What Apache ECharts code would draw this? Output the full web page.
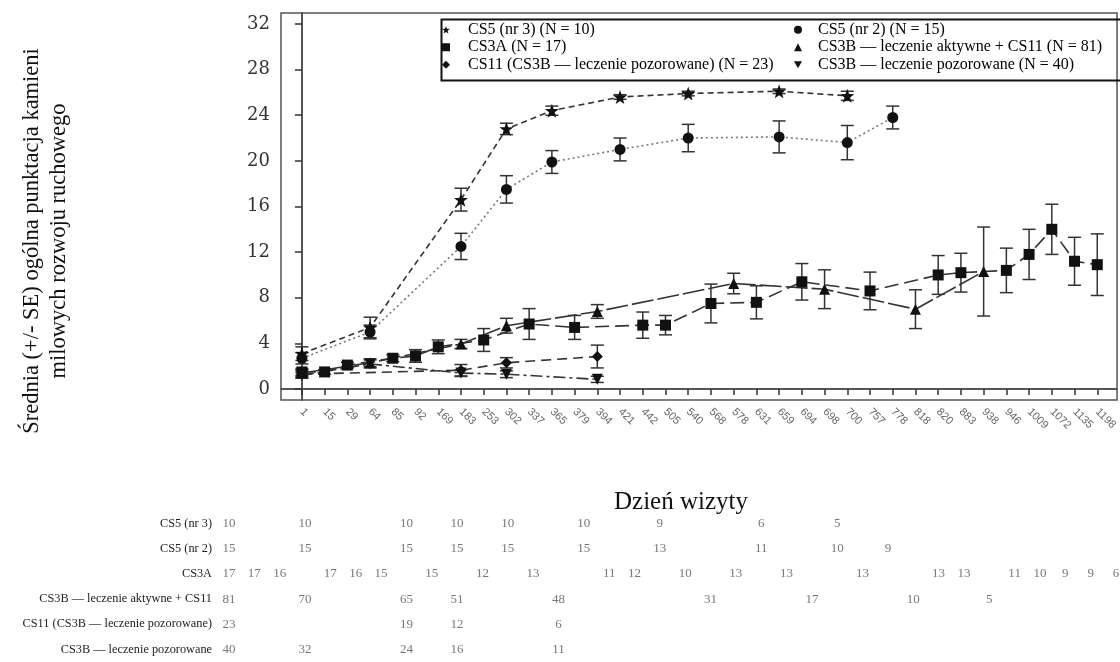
<meta charset="utf-8">
<script src="https://cdn.jsdelivr.net/npm/echarts@6/dist/echarts.min.js"></script>
<div id="main" style="position:absolute;left:0;top:0;width:1120px;height:662px"></div>
<script>
// visit days on the x axis (category positions)
const days = [1,15,29,64,85,92,169,183,253,302,337,365,379,394,421,442,505,540,568,578,631,659,694,698,700,757,778,818,820,883,938,946,1009,1072,1135,1198];
const yTicks = [0,4,8,12,16,20,24,28,32];

const legendNames = ['CS5 (nr 3) (N = 10)', 'CS5 (nr 2) (N = 15)', 'CS3A (N = 17)',
  'CS3B — leczenie aktywne + CS11 (N = 81)', 'CS11 (CS3B — leczenie pozorowane) (N = 23)', 'CS3B — leczenie pozorowane (N = 40)'];
const rowLabels = ['CS5 (nr 3)', 'CS5 (nr 2)', 'CS3A', 'CS3B — leczenie aktywne + CS11',
  'CS11 (CS3B — leczenie pozorowane)', 'CS3B — leczenie pozorowane'];

const cs5nr3Days = [1,64,183,302,365,421,540,659,700];
const cs5nr3Mean = [3.1,5.4,16.6,22.8,24.4,25.6,25.9,26.1,25.7];
const cs5nr3Se   = [0.6,0.9,1.0,0.5,0.4,0.2,0.2,0.2,0.4];
const cs5nr3N    = [10,10,10,10,10,10,9,6,5];

const cs5nr2Days = [1,64,183,302,365,421,540,659,700,778];
const cs5nr2Mean = [2.7,5.0,12.5,17.5,19.9,21.0,22.0,22.1,21.6,23.8];
const cs5nr2Se   = [0.5,0.6,1.15,1.2,1.0,1.0,1.2,1.4,1.5,1.0];
const cs5nr2N    = [15,15,15,15,15,15,13,11,10,9];

const cs3aDays = [1,15,29,85,92,169,253,337,379,442,505,568,631,694,757,820,883,946,1009,1072,1135,1198];
const cs3aMean = [1.5,1.5,2.1,2.7,2.9,3.7,4.3,5.7,5.4,5.6,5.6,7.5,7.6,9.4,8.6,10.0,10.2,10.4,11.8,14.0,11.2,10.9];
const cs3aSe   = [0.3,0.2,0.25,0.3,0.55,0.6,1.0,1.35,1.05,1.15,0.85,1.7,1.45,1.6,1.65,1.7,1.7,1.95,2.2,2.2,2.1,2.7];
const cs3aN    = [17,17,16,17,16,15,15,12,13,11,12,10,13,13,13,13,13,11,10,9,9,6];

const cs3bActDays = [1,64,183,302,394,578,698,818,938];
const cs3bActMean = [1.4,2.3,3.95,5.55,6.8,9.25,8.75,7.0,10.3];
const cs3bActSe   = [0.3,0.35,0.4,0.65,0.6,0.9,1.7,1.7,3.9];
const cs3bActN    = [81,70,65,51,48,31,17,10,5];

const cs11Days = [1,183,302,394];
const cs11Mean = [1.3,1.65,2.3,2.85];
const cs11Se   = [0.3,0.5,0.45,1.0];
const cs11N    = [23,19,12,6];

const cs3bShamDays = [1,64,183,302,394];
const cs3bShamMean = [1.2,2.2,1.4,1.3,0.85];
const cs3bShamSe   = [0.25,0.35,0.3,0.3,0.27];
const cs3bShamN    = [40,32,24,16,11];

const STAR = 'path://M0,-10L2.35,-3.24L9.51,-3.09L3.8,1.24L5.88,8.09L0,4.2L-5.88,8.09L-3.8,1.24L-9.51,-3.09L-2.35,-3.24Z';
const groups = [
  {days: cs5nr3Days, mean: cs5nr3Mean, se: cs5nr3Se, n: cs5nr3N, symbol: STAR, size: 14, dash: [6,4], color: '#333'},
  {days: cs5nr2Days, mean: cs5nr2Mean, se: cs5nr2Se, n: cs5nr2N, symbol: 'circle', size: 11, dash: [2,3], color: '#777'},
  {days: cs3aDays, mean: cs3aMean, se: cs3aSe, n: cs3aN, symbol: 'rect', size: 11, dash: [14,6], color: '#333'},
  {days: cs3bActDays, mean: cs3bActMean, se: cs3bActSe, n: cs3bActN, symbol: 'triangle', size: 11, dash: [22,4], color: '#333'},
  {days: cs11Days, mean: cs11Mean, se: cs11Se, n: cs11N, symbol: 'diamond', size: 11, dash: [10,6], color: '#333'},
  {days: cs3bShamDays, mean: cs3bShamMean, se: cs3bShamSe, n: cs3bShamN, symbol: 'triangle', rotate: 180, size: 11, dash: [12,4,3,4], color: '#333'},
];
const legendIcons = [STAR, 'circle', 'rect', 'triangle', 'diamond', 'path://M-5,-4L5,-4L0,5Z'];

const serif = 'Liberation Serif';
const series = [];
groups.forEach((g, k) => {
  const idx = g.days.map(d => days.indexOf(d));
  series.push({
    type: 'custom', xAxisIndex: 0, yAxisIndex: 0, z: 2, silent: true,
    data: idx.map((x, i) => [x, g.mean[i] - g.se[i], g.mean[i] + g.se[i]]),
    encode: {x: 0, y: [1, 2]},
    renderItem: (params, api) => {
      const top = api.coord([api.value(0), api.value(2)]);
      const bot = api.coord([api.value(0), api.value(1)]);
      const w = 6.5, st = {stroke: '#333', lineWidth: 1.5};
      return {type: 'group', children: [
        {type: 'line', shape: {x1: top[0], y1: top[1], x2: bot[0], y2: bot[1]}, style: st},
        {type: 'line', shape: {x1: top[0]-w, y1: top[1], x2: top[0]+w, y2: top[1]}, style: st},
        {type: 'line', shape: {x1: bot[0]-w, y1: bot[1], x2: bot[0]+w, y2: bot[1]}, style: st},
      ]};
    }
  });
  series.push({
    name: legendNames[k], type: 'line', xAxisIndex: 0, yAxisIndex: 0, z: 3,
    data: idx.map((x, i) => [x, g.mean[i]]),
    symbol: g.symbol, symbolSize: g.size, symbolRotate: g.rotate || 0,
    itemStyle: {color: '#111'},
    lineStyle: {color: g.color, width: 1.6, type: g.dash},
  });
  // numbers at risk under the chart
  series.push({
    type: 'scatter', xAxisIndex: 1, yAxisIndex: 1, silent: true,
    symbolSize: 2, itemStyle: {color: 'rgba(0,0,0,0)'},
    data: idx.map((x, i) => [x, rowLabels[k], g.n[i]]),
    label: {show: true, position: 'inside', formatter: p => p.value[2],
      fontFamily: serif, fontSize: 13, color: '#555'},
  });
});

const legendText = {fontFamily: serif, fontSize: 16, color: '#000', lineHeight: 17.5};
const myChart = echarts.init(main);
myChart.setOption({
  backgroundColor: '#fff',
  animation: false,
  grid: [
    {left: 281, top: 13, right: -2, bottom: 262, show: true, borderColor: '#555', borderWidth: 1.5},
    {left: 229, top: 511, right: 4, height: 156},
  ],
  xAxis: [{
    type: 'value', gridIndex: 0, min: -0.92, max: 35.87,
    splitLine: {show: false},
    axisLine: {lineStyle: {color: '#555', width: 2}},
    axisTick: {customValues: days.map((d, i) => i), length: 6, lineStyle: {color: '#333', width: 1.5}},
    axisLabel: {customValues: days.map((d, i) => i), formatter: v => days[v], rotate: -45, margin: 10,
      fontFamily: 'Liberation Sans', fontSize: 11, color: '#666'},
  }, {
    type: 'value', gridIndex: 1, min: 0, max: 35, show: false,
  }],
  yAxis: [{
    type: 'value', gridIndex: 0, min: -0.96, max: 32.96,
    splitLine: {show: false},
    axisLine: {show: true, lineStyle: {color: '#555', width: 2}},
    axisTick: {show: true, customValues: yTicks, length: 7, lineStyle: {color: '#333', width: 1.5}},
    axisLabel: {customValues: yTicks, margin: 11, fontFamily: 'DejaVu Serif', fontSize: 18, color: '#333'},
  }, {
    type: 'category', gridIndex: 1, data: rowLabels, inverse: true,
    axisLine: {show: false}, axisTick: {show: false}, splitLine: {show: false},
    axisLabel: {margin: 17, fontFamily: serif, fontSize: 12.3, color: '#222'},
  }],
  legend: [{
    orient: 'vertical', left: 437, top: 16, itemWidth: 8, itemHeight: 8, itemGap: 0,
    data: [0, 2, 4].map(i => ({name: legendNames[i], icon: legendIcons[i]})),
    textStyle: Object.assign({padding: [0, 0, 0, 13]}, legendText),
  }, {
    orient: 'vertical', left: 789, top: 16, itemWidth: 8, itemHeight: 8, itemGap: 0,
    data: [1, 3, 5].map(i => ({name: legendNames[i], icon: legendIcons[i]})),
    textStyle: Object.assign({padding: [0, 0, 0, 11]}, legendText),
  }],
  graphic: [
    {type: 'rect', left: 439, top: 17, shape: {width: 680, height: 61}, style: {fill: 'none', stroke: '#111', lineWidth: 2}, z: 10},
    {type: 'text', x: 46, y: 241, rotation: Math.PI / 2,
      style: {text: 'Średnia (+/- SE) ogólna punktacja kamieni\nmilowych rozwoju ruchowego',
        align: 'center', verticalAlign: 'middle', lineHeight: 27, font: '22.5px "Liberation Serif"', fill: '#111'}},
    {type: 'text', x: 681, y: 502,
      style: {text: 'Dzień wizyty', align: 'center', verticalAlign: 'middle', font: '25px "Liberation Serif"', fill: '#111'}},
  ],
  series: series,
});
</script>
